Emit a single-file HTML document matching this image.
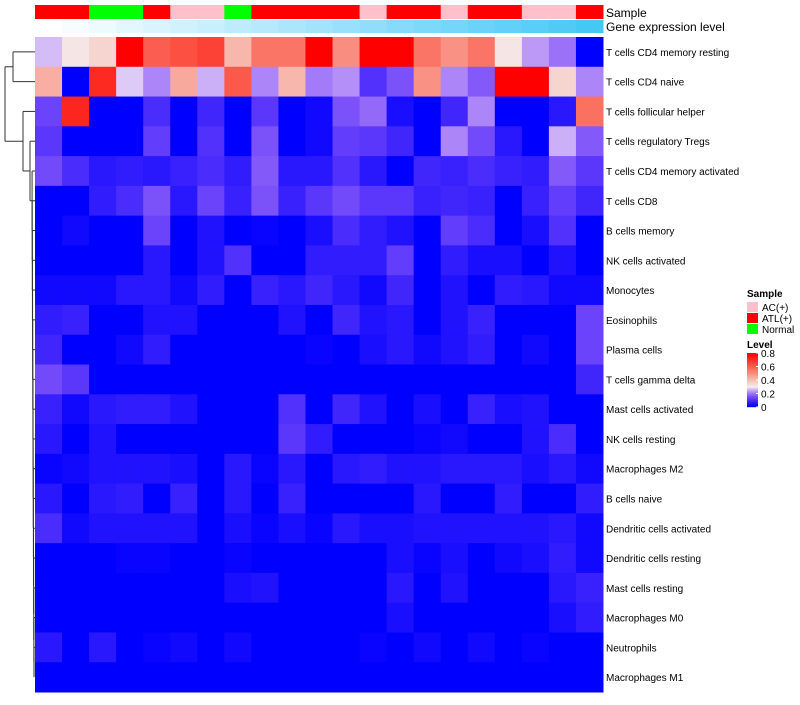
<!DOCTYPE html>
<html><head><meta charset="utf-8">
<style>
body{margin:0;background:#fff;font-family:"Liberation Sans",sans-serif;}
svg text{font-family:"Liberation Sans",sans-serif;}
</style></head>
<body>
<svg id="chart" width="800" height="700" xmlns="http://www.w3.org/2000/svg">
<g id="dendro" stroke="#333" stroke-width="1" fill="none"></g>
<g id="cells"></g>
<g id="annot"></g>
<g id="labels"></g>
<g id="legend"></g>
</svg>
<script>
const rowNames = ["T cells CD4 memory resting","T cells CD4 naive","T cells follicular helper","T cells regulatory  Tregs","T cells CD4 memory activated","T cells CD8","B cells memory","NK cells activated","Monocytes","Eosinophils","Plasma cells","T cells gamma delta","Mast cells activated","NK cells resting","Macrophages M2","B cells naive","Dendritic cells activated","Dendritic cells resting","Mast cells resting","Macrophages M0","Neutrophils","Macrophages M1"];
const sampleGroup = ["ATL(+)","ATL(+)","Normal","Normal","ATL(+)","AC(+)","AC(+)","Normal","ATL(+)","ATL(+)","ATL(+)","ATL(+)","AC(+)","ATL(+)","ATL(+)","AC(+)","ATL(+)","ATL(+)","AC(+)","AC(+)","ATL(+)"];
const geneLevel = [0,0.05,0.1,0.15,0.2,0.25,0.3,0.35,0.4,0.45,0.5,0.55,0.6,0.65,0.7,0.75,0.8,0.85,0.9,0.95,1];
const r1=[0.26,0.31,0.35,0.8,0.6,0.63,0.66,0.41,0.55,0.55,0.8,0.5,0.8,0.8,0.55,0.49,0.55,0.31,0.23,0.19,0];
const r2=[0.43,0,0.71,0.27,0.21,0.44,0.25,0.61,0.21,0.41,0.2,0.22,0.1,0.15,0.49,0.21,0.16,0.8,0.8,0.35,0.21];
const r3=[0.13,0.72,0,0,0.09,0,0.08,0,0.11,0,0.02,0.15,0.18,0.03,0,0.08,0.21,0,0,0.05,0.56];
const r4=[0.11,0,0,0,0.12,0,0.1,0,0.15,0,0.02,0.12,0.11,0.08,0,0.21,0.14,0.05,0,0.25,0.16];
const r5=[0.14,0.09,0.05,0.06,0.05,0.07,0.09,0.06,0.16,0.05,0.05,0.1,0.05,0,0.08,0.07,0.09,0.07,0.06,0.16,0.11];
const r6=[0,0,0.06,0.09,0.15,0.05,0.13,0.07,0.15,0.07,0.11,0.14,0.11,0.11,0.07,0.08,0.07,0,0.07,0.12,0.08];
const r7=[0,0.02,0,0,0.13,0,0.04,0,0.01,0,0.03,0.09,0.06,0.04,0,0.12,0.09,0,0.03,0.1,0];
const r8=[0,0,0,0,0.05,0,0.04,0.1,0,0,0.06,0.06,0.06,0.12,0,0.06,0.03,0.03,0,0.04,0];
const r9=[0.02,0.02,0.02,0.05,0.05,0.02,0.06,0,0.07,0.05,0.08,0.05,0.02,0.08,0,0.04,0,0.06,0.05,0.02,0.02];
const r10=[0.06,0.07,0,0,0.04,0.04,0,0,0,0.04,0,0.08,0.04,0.05,0,0.04,0.07,0,0,0,0.13];
const r11=[0.08,0,0,0.02,0.06,0,0,0,0,0,0.01,0,0.03,0.05,0.02,0.04,0.06,0,0.02,0,0.13];
const r12=[0.14,0.11,0,0,0,0,0,0,0,0,0,0,0,0,0,0,0,0,0,0,0.08];
const r13=[0.07,0.02,0.05,0.06,0.06,0.04,0,0,0,0.1,0,0.08,0.04,0,0.03,0,0.07,0.03,0.04,0,0];
const r14=[0.05,0,0.04,0,0,0,0,0,0,0.11,0.06,0,0,0,0.01,0.02,0,0,0.04,0.09,0];
const r15=[0.01,0.02,0.04,0.04,0.04,0.03,0,0.05,0.01,0.05,0,0.05,0.06,0.04,0.04,0.05,0.05,0.05,0.03,0.05,0.02];
const r16=[0.05,0,0.05,0.06,0,0.07,0,0.05,0,0.07,0,0,0,0,0.05,0,0,0.06,0,0,0.06];
const r17=[0.09,0.02,0.04,0.04,0.04,0.04,0,0.03,0.01,0.03,0.01,0.05,0.03,0.03,0.04,0.04,0.04,0.04,0.04,0.05,0.02];
const r18=[0,0,0,0.01,0.01,0,0,0.01,0,0,0,0,0,0.03,0.01,0.03,0,0.02,0.03,0.06,0.02];
const r19=[0,0,0,0,0,0,0,0.03,0.04,0,0,0,0,0.05,0,0.04,0,0,0,0.05,0.07];
const r20=[0,0,0,0,0,0,0,0,0,0,0,0,0,0.03,0,0,0,0,0,0.03,0.06];
const r21=[0.05,0,0.05,0,0.01,0.02,0,0.02,0,0,0,0,0.01,0,0.02,0,0.02,0,0.01,0,0];
const r22=[0,0,0,0,0,0,0,0,0,0,0,0,0,0,0,0,0,0,0,0,0];
const values=[r1,r2,r3,r4,r5,r6,r7,r8,r9,r10,r11,r12,r13,r14,r15,r16,r17,r18,r19,r20,r21,r22];
const legendTicks=[0,0.2,0.4,0.6,0.8];

const NS="http://www.w3.org/2000/svg";
const X0=35,X1=603,Y0=37,Y1=692;
const nC=sampleGroup.length,nR=rowNames.length;
const cw=(X1-X0)/nC,rh=(Y1-Y0)/nR;
const xPos=c=>X0+c*cw, yPos=r=>Y0+r*rh;
function color(v){
  const W=0.3;
  if(v<=W){
    const t=Math.max(0,v)/W;
    const r=Math.round(245*t);
    const g=Math.round(r*(0.55+0.45*t*t));
    const b=Math.round(255-10*t);
    return `rgb(${r},${g},${b})`;
  }
  const t=Math.min(1,(v-W)/(0.8-W));
  const g=Math.round(235*(1-t));
  const b=Math.round(g*(0.75+0.25*g/235));
  return `rgb(${Math.round(245+10*t)},${g},${b})`;
}
const sampleColor={"AC(+)":"#FFC0CB","ATL(+)":"#FF0000","Normal":"#00FF00"};
function geneColor(t){return `rgb(${Math.round(255-185*t)},${Math.round(255-55*t)},${Math.round(255-10*t)})`;}
function mk(tag,attrs,parent){const e=document.createElementNS(NS,tag);for(const k in attrs)e.setAttribute(k,attrs[k]);parent.appendChild(e);return e;}

const cells=document.getElementById('cells');
for(let r=0;r<nR;r++)for(let c=0;c<nC;c++){
  const e=mk('rect',{x:xPos(c),y:yPos(r),width:cw+0.5,height:rh+0.5,fill:color(values[r][c])},cells);
  
  
}
const annot=document.getElementById('annot');
for(let c=0;c<nC;c++){
  const a=mk('rect',{x:xPos(c),y:5,width:cw+0.5,height:14,fill:sampleColor[sampleGroup[c]]},annot);
  
  
  const g=mk('rect',{x:xPos(c),y:20,width:cw+0.5,height:13,fill:geneColor(geneLevel[c])},annot);
  
  
}
const labels=document.getElementById('labels');
let t=mk('text',{x:606,y:17,'font-size':12,fill:'#000'},labels);t.textContent="Sample";


t=mk('text',{x:606,y:31,'font-size':12,fill:'#000'},labels);t.textContent="Gene expression level";


for(let r=0;r<nR;r++){
  const l=mk('text',{x:606,y:yPos(r)+rh/2+4,'font-size':10,fill:'#000'},labels);
  l.textContent=rowNames[r];
  
  
}
// dendrogram
const d=document.getElementById('dendro');
const yc=r=>yPos(r)+rh/2;
function seg(x1,y1,x2,y2){mk('line',{x1:x1,y1:y1,x2:x2,y2:y2},d);}
seg(13,yc(0),35,yc(0));seg(13,yc(1),35,yc(1));seg(13,yc(0),13,yc(1));
const m1=(yc(0)+yc(1))/2;
seg(5,m1,13,m1);
seg(23,yc(2),35,yc(2));
let prev=yc(21);
for(let r=20;r>=4;r--){const x=34-(20-r)*0.12;seg(x,yc(r),35,yc(r));seg(x,yc(r),x,prev);prev=(yc(r)+prev)/2;seg(x-0.2,prev,x,prev);}
const m3=prev;
seg(30,yc(3),35,yc(3));seg(30,yc(3),30,m3);seg(30,m3,32,m3);
const m4=(yc(3)+m3)/2;
seg(23,yc(2),23,m4);seg(23,m4,30,m4);
const m5=(yc(2)+m4)/2;
seg(5,m1,5,m5);seg(5,m5,23,m5);

// legend
const lg=document.getElementById('legend');
t=mk('text',{x:747,y:297,'font-size':10,'font-weight':'bold'},lg);t.textContent="Sample";


const groups=["AC(+)","ATL(+)","Normal"];
groups.forEach((g,i)=>{
  const r=mk('rect',{x:747,y:302+i*11,width:11,height:10,fill:sampleColor[g]},lg);
  
  
  const tx=mk('text',{x:762,y:311+i*11,'font-size':10},lg);tx.textContent=g;
  
  
});
t=mk('text',{x:747,y:348,'font-size':10,'font-weight':'bold'},lg);t.textContent="Level";


const cbTop=353,cbBot=407;
for(let i=0;i<54;i++){
  const v=0.8*(1-i/53);
  const r=mk('rect',{x:747,y:cbTop+i,width:11,height:1.2,fill:color(v)},lg);
  
  
}
legendTicks.forEach(v=>{
  const y=cbBot-(v/0.8)*(cbBot-cbTop);
  mk('line',{x1:756,x2:758,y1:y,y2:y,stroke:'#fff'},lg);
  const tx=mk('text',{x:761,y:y+4,'font-size':10},lg);tx.textContent=String(v);
  
  
});
</script>
</body></html>
